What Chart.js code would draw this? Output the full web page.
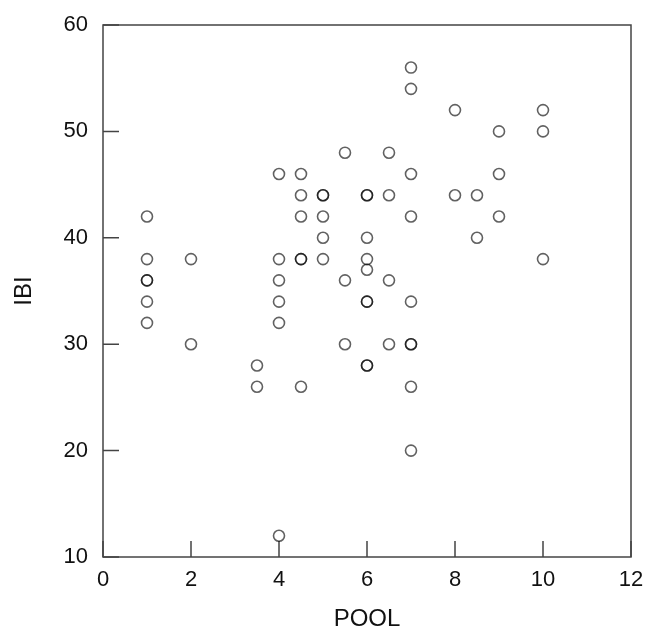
<!DOCTYPE html>
<html>
<head>
<meta charset="utf-8">
<script src="https://cdn.jsdelivr.net/npm/chart.js@4/dist/chart.umd.min.js"></script>
<style>
    html, body { margin: 0; padding: 0; background: #fff; }
    #chart_wrap { width: 647px; height: 634px; }
</style>
</head>
<body>
<div id="chart_wrap"><canvas id="pool_ibi_chart" width="647" height="634"></canvas></div>
<script>
// POOL の値（重なっている点は同じ値を2回入れている）
const pool_values = [
    1, 1, 1, 1, 1, 1,
    2, 2,
    3.5, 3.5,
    4, 4, 4, 4, 4, 4,
    4.5, 4.5, 4.5, 4.5, 4.5, 4.5,
    5, 5, 5, 5, 5,
    5.5, 5.5, 5.5,
    6, 6, 6, 6, 6, 6, 6, 6, 6,
    6.5, 6.5, 6.5, 6.5,
    7, 7, 7, 7, 7, 7, 7, 7, 7,
    8, 8,
    8.5, 8.5,
    9, 9, 9,
    10, 10, 10
];
// IBI の値
const ibi_values = [
    42, 38, 36, 36, 34, 32,
    38, 30,
    28, 26,
    46, 38, 36, 34, 32, 12,
    46, 44, 42, 38, 38, 26,
    44, 44, 42, 40, 38,
    48, 36, 30,
    44, 44, 40, 38, 37, 34, 34, 28, 28,
    48, 44, 36, 30,
    56, 54, 46, 42, 34, 30, 30, 26, 20,
    52, 44,
    44, 40,
    50, 46, 42,
    52, 50, 38
];
// 軸の目盛り
const x_ticks = [0, 2, 4, 6, 8, 10, 12];
const y_ticks = [10, 20, 30, 40, 50, 60];

// 枠線と内向きの目盛りを描く
const frame_plugin = {
    id: 'frame',
    beforeDatasetsDraw(chart) {
        const { ctx, chartArea: a, scales } = chart;
        ctx.save();
        ctx.strokeStyle = '#444';
        ctx.lineWidth = 1.5;
        ctx.strokeRect(a.left, a.top, a.right - a.left, a.bottom - a.top);
        ctx.beginPath();
        x_ticks.forEach(function(v) {
            const px = scales.x.getPixelForValue(v);
            ctx.moveTo(px, a.bottom);
            ctx.lineTo(px, a.bottom - 16);
        });
        y_ticks.forEach(function(v) {
            const py = scales.y.getPixelForValue(v);
            ctx.moveTo(a.left, py);
            ctx.lineTo(a.left + 16, py);
        });
        ctx.stroke();
        ctx.restore();
    }
};

// 散布図のデータ
let points = [];
pool_values.forEach(function(v, i) {
    points.push({ x: v, y: ibi_values[i] });
});

const font_family = '"Liberation Sans", Arial, sans-serif';

new Chart(document.getElementById('pool_ibi_chart'), {
    type: 'scatter',
    data: {
        datasets: [{
            label: 'IBI',
            data: points,
            pointStyle: 'circle',
            pointRadius: 5.5,
            pointHoverRadius: 5.5,
            borderWidth: 1.6,
            borderColor: 'rgba(0, 0, 0, 0.62)',
            backgroundColor: 'rgba(0, 0, 0, 0)'
        }]
    },
    options: {
        responsive: false,
        animation: false,
        layout: {
            padding: { top: 25, right: 16, left: 0, bottom: 0 }
        },
        plugins: {
            legend: { display: false },
            tooltip: { enabled: false }
        },
        scales: {
            x: {
                type: 'linear',
                min: 0,
                max: 12,
                afterBuildTicks: function(scale) {
                    scale.ticks = x_ticks.map(function(v) { return { value: v }; });
                },
                afterFit: function(scale) {
                    scale.height = 77;
                    scale.paddingLeft = 0;
                    scale.paddingRight = 0;
                },
                grid: { display: false, drawTicks: false },
                border: { display: false },
                ticks: {
                    color: '#111',
                    padding: 10,
                    maxRotation: 0,
                    font: { family: font_family, size: 22 }
                },
                title: {
                    display: true,
                    text: 'POOL',
                    color: '#111',
                    padding: { top: 0, bottom: 0 },
                    font: { family: font_family, size: 24 }
                }
            },
            y: {
                type: 'linear',
                min: 10,
                max: 60,
                afterBuildTicks: function(scale) {
                    scale.ticks = y_ticks.map(function(v) { return { value: v }; });
                },
                afterFit: function(scale) {
                    scale.width = 103;
                    scale.paddingTop = 0;
                    scale.paddingBottom = 0;
                },
                grid: { display: false, drawTicks: false },
                border: { display: false },
                ticks: {
                    color: '#111',
                    padding: 15,
                    font: { family: font_family, size: 22 }
                },
                title: {
                    display: true,
                    text: 'IBI',
                    color: '#111',
                    padding: { top: 10, bottom: 0 },
                    font: { family: font_family, size: 24 }
                }
            }
        }
    },
    plugins: [frame_plugin]
});
</script>
</body>
</html>
